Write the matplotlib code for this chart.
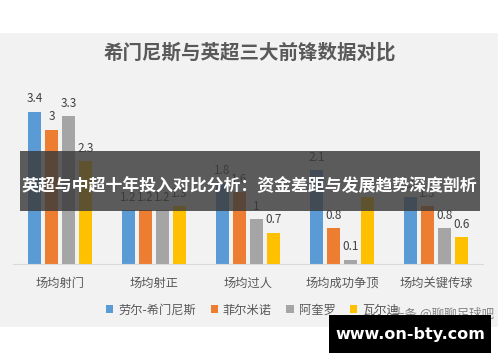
import matplotlib

matplotlib.use("Agg")
import matplotlib.pyplot as plt
import numpy as np
from matplotlib.patches import Rectangle

plt.rcParams["font.family"] = ["Noto Sans CJK SC", "DejaVu Sans"]

categories = ["场均射门", "场均射正", "场均过人", "场均成功争顶", "场均关键传球"]
players = ["劳尔-希门尼斯", "菲尔米诺", "阿奎罗", "瓦尔迪"]
jimenez = [3.4, 1.2, 1.8, 2.1, 1.5]
firmino = [3.0, 1.2, 1.6, 0.8, 1.3]
aguero = [3.3, 1.2, 1.0, 0.1, 0.8]
vardy = [2.3, 1.3, 0.7, 1.5, 0.6]
series = [jimenez, firmino, aguero, vardy]
colors = ["#5B9BD5", "#ED7D31", "#A5A5A5", "#FFC000"]

TXT = "#595959"
W, H = 500, 362

fig = plt.figure(figsize=(5.0, 3.62), dpi=100)
fig.patch.set_facecolor("white")
# серый фон карточки графика
fig.patches.append(Rectangle((0, (H - 327) / H), 498 / W, 294 / H,
                             transform=fig.transFigure, facecolor="#F2F2F2",
                             edgecolor="none", zorder=-10))

ax = fig.add_axes([13 / W, 98 / H, 470 / W, 179.2 / H])
ax.set_facecolor("none")
ax.set_zorder(1)
x = np.arange(len(categories))
pitch, width = 0.18, 0.145
for i, (vals, col) in enumerate(zip(series, colors)):
    pos = x + (i - 1.5) * pitch
    bars = ax.bar(pos, vals, width, color=col, label=players[i], zorder=2)
    for b, v in zip(bars, vals):
        ax.annotate(f"{v:g}", (b.get_x() + b.get_width() / 2, v), xytext=(0, 4.5),
                    textcoords="offset points", ha="center", va="bottom",
                    fontsize=8.5, color="#404040")
ax.set_xlim(-0.5, len(categories) - 0.5)
ax.set_ylim(0, 4)
ax.set_yticks([])
ax.set_xticks(x)
ax.set_xticklabels(categories, fontsize=8.8, color=TXT)
ax.tick_params(axis="x", length=0, pad=9)
for s in ["top", "left", "right"]:
    ax.spines[s].set_visible(False)
ax.spines["bottom"].set_color("#D9D9D9")

fig.text(0.5, (H - 53) / H, "希门尼斯与英超三大前锋数据对比", ha="center", va="center",
         fontsize=14, color=TXT, fontweight="bold")

fig.legend(loc="center", bbox_to_anchor=(0.505, (H - 310) / H), ncol=4, frameon=False,
           fontsize=8.8, handlelength=0.6, handleheight=0.6, handletextpad=0.4,
           columnspacing=1.2, labelcolor=TXT)

# водяной знак поверх легенды
fig.text(443 / W, (H - 313) / H, "头条 @聊聊足球吧", ha="center", va="center",
         fontsize=9, color="#606060", alpha=0.75, zorder=4)

# баннер с заголовком статьи
fig.patches.append(Rectangle((20 / W, (H - 211) / H), 460 / W, 60 / H,
                             transform=fig.transFigure, facecolor="#3A3A3A",
                             alpha=0.82, edgecolor="none", zorder=5))
fig.text(249 / W, (H - 186) / H, "英超与中超十年投入对比分析：资金差距与发展趋势深度剖析",
         ha="center", va="center", fontsize=12.2, fontweight="bold", color="white",
         zorder=6)

# сайт внизу справа
fig.patches.append(Rectangle((329 / W, (H - 353) / H), 162 / W, 38 / H,
                             transform=fig.transFigure, facecolor="black",
                             edgecolor="none", zorder=5))
fig.text(410 / W, (H - 334) / H, "www.on-bty.com", ha="center", va="center",
         fontsize=11.5, fontweight="bold", color="white", family="DejaVu Sans",
         zorder=6)

fig.savefig("out.png", dpi=100)
